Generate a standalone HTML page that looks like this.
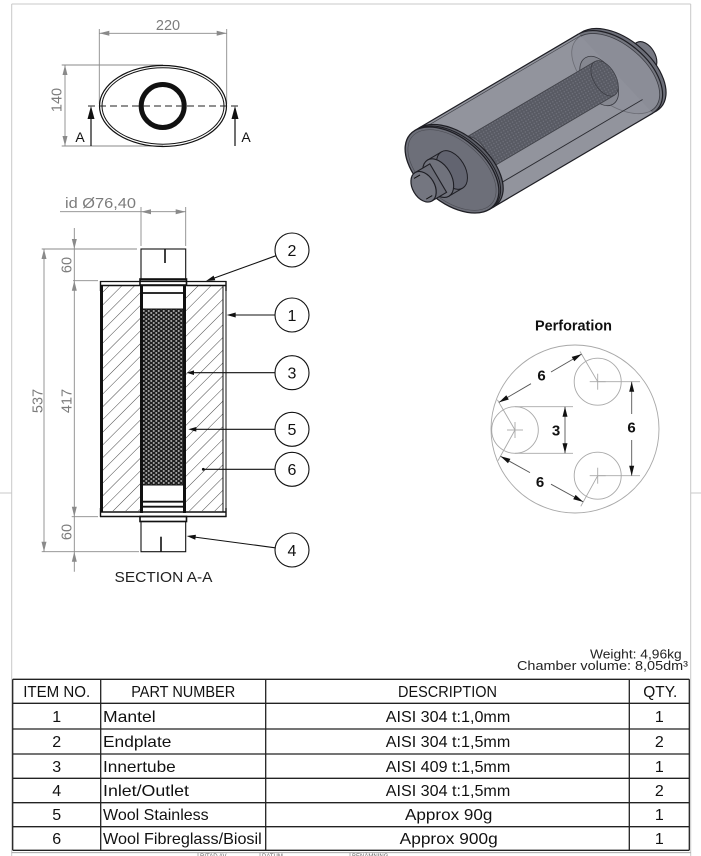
<!DOCTYPE html>
<html><head><meta charset="utf-8"><style>
html,body{margin:0;padding:0;background:#fff;}
svg{display:block;}
text{font-family:"Liberation Sans",Arial,sans-serif;}
</style></head><body>
<svg width="701" height="856" viewBox="0 0 701 856" xmlns="http://www.w3.org/2000/svg">
<defs>
<pattern id="hatch" width="9" height="9" patternUnits="userSpaceOnUse" patternTransform="rotate(45)">
<line x1="0" y1="0" x2="0" y2="9" stroke="#333" stroke-width="0.9"/>
</pattern>
<pattern id="perf" width="5" height="4" patternUnits="userSpaceOnUse">
<rect width="5" height="4" fill="#1e1e1e"/>
<ellipse cx="1.25" cy="1" rx="1.05" ry="0.7" fill="#d8d8d8"/>
<ellipse cx="3.75" cy="3" rx="1.05" ry="0.7" fill="#d8d8d8"/>
</pattern>
<pattern id="perf3d" width="3" height="3" patternUnits="userSpaceOnUse">
<rect width="3" height="3" fill="#585a63"/>
<circle cx="1.5" cy="1.5" r="0.7" fill="#72747e"/>
</pattern>
</defs>

<!-- page border -->
<g stroke="#c8c8c8" stroke-width="1" fill="none">
<line x1="11.7" y1="4" x2="690.7" y2="4"/>
<line x1="11.7" y1="4" x2="11.7" y2="856"/>
<line x1="690.7" y1="4" x2="690.7" y2="856"/>
<line x1="0" y1="493" x2="11.7" y2="493"/>
<line x1="690.7" y1="493" x2="701" y2="493"/>
</g>

<!-- ===== TOP VIEW ===== -->
<g stroke="#8a8a8a" stroke-width="0.9" fill="none">
<line x1="99.3" y1="29" x2="99.3" y2="104"/>
<line x1="226.7" y1="29" x2="226.7" y2="104"/>
<line x1="99.3" y1="33.3" x2="226.7" y2="33.3"/>
<line x1="61.7" y1="65" x2="163" y2="65"/>
<line x1="61.7" y1="146" x2="163" y2="146"/>
<line x1="65" y1="65" x2="65" y2="146"/>
</g>
<g fill="#8a8a8a">
<polygon points="99.3,33.3 109.3,30.8 109.3,35.8"/>
<polygon points="226.7,33.3 216.7,30.8 216.7,35.8"/>
<polygon points="65,65 62.5,75 67.5,75"/>
<polygon points="65,146 62.5,136 67.5,136"/>
</g>
<text x="168" y="30" font-size="14.5" fill="#7c7c7c" text-anchor="middle">220</text>
<text transform="translate(61.5,100) rotate(-90)" font-size="14.5" fill="#7c7c7c" text-anchor="middle">140</text>
<ellipse cx="163" cy="106" rx="63.5" ry="40.5" fill="none" stroke="#111" stroke-width="1.2"/>
<ellipse cx="163" cy="106" rx="61" ry="38.2" fill="none" stroke="#111" stroke-width="1"/>
<circle cx="162.7" cy="106" r="21.5" fill="none" stroke="#111" stroke-width="5"/>
<line x1="88" y1="106" x2="238" y2="106" stroke="#222" stroke-width="1" stroke-dasharray="7 4"/>
<line x1="91" y1="112" x2="91" y2="146" stroke="#111" stroke-width="1.2"/>
<line x1="235" y1="112" x2="235" y2="146" stroke="#111" stroke-width="1.2"/>
<polygon points="91,106 87.5,119 94.5,119" fill="#111"/>
<polygon points="235,106 231.5,119 238.5,119" fill="#111"/>
<text x="80" y="142" font-size="14" fill="#111" text-anchor="middle">A</text>
<text x="246" y="142" font-size="14" fill="#111" text-anchor="middle">A</text>

<!-- ===== SECTION A-A ===== -->
<text x="100.5" y="208" font-size="14.5" fill="#7c7c7c" text-anchor="middle" textLength="71" lengthAdjust="spacingAndGlyphs">id Ø76,40</text>
<g stroke="#8a8a8a" stroke-width="0.9" fill="none">
<line x1="60" y1="211.7" x2="185.7" y2="211.7"/>
<line x1="141" y1="207" x2="141" y2="246"/>
<line x1="185.7" y1="207" x2="185.7" y2="246"/>
<line x1="41.7" y1="249" x2="137" y2="249"/>
<line x1="73" y1="280.7" x2="98" y2="280.7"/>
<line x1="71.7" y1="516.7" x2="98" y2="516.7"/>
<line x1="41.7" y1="551.7" x2="139" y2="551.7"/>
<line x1="74.3" y1="228" x2="74.3" y2="571.7"/>
<line x1="44" y1="249" x2="44" y2="551.7"/>
</g>
<g fill="#8a8a8a">
<polygon points="141,211.7 151,209.2 151,214.2"/>
<polygon points="185.7,211.7 175.7,209.2 175.7,214.2"/>
<polygon points="74.3,249 71.8,239 76.8,239"/>
<polygon points="74.3,280.7 71.8,290.7 76.8,290.7"/>
<polygon points="74.3,516.7 71.8,506.7 76.8,506.7"/>
<polygon points="74.3,551.7 71.8,561.7 76.8,561.7"/>
<polygon points="44,249 41.5,259 46.5,259"/>
<polygon points="44,551.7 41.5,541.7 46.5,541.7"/>
</g>
<text transform="translate(71.5,265) rotate(-90)" font-size="14.5" fill="#7c7c7c" text-anchor="middle">60</text>
<text transform="translate(71.5,401) rotate(-90)" font-size="14.5" fill="#7c7c7c" text-anchor="middle">417</text>
<text transform="translate(42.5,401) rotate(-90)" font-size="14.5" fill="#7c7c7c" text-anchor="middle">537</text>
<text transform="translate(71.5,532) rotate(-90)" font-size="14.5" fill="#7c7c7c" text-anchor="middle">60</text>

<rect x="103" y="286" width="37" height="225" fill="url(#hatch)"/>
<rect x="186" y="286" width="37" height="225" fill="url(#hatch)"/>
<rect x="143" y="309" width="40" height="176" fill="url(#perf)"/>
<g stroke="#111" fill="none">
<rect x="141" y="249" width="44.7" height="31" stroke-width="1.1"/>
<line x1="165" y1="249" x2="165" y2="263" stroke-width="1.6"/>
<rect x="140" y="279" width="46.5" height="6" stroke-width="1.6"/>
<line x1="140" y1="293" x2="186" y2="293" stroke-width="1.8"/>
<line x1="100" y1="281.5" x2="226.5" y2="281.5" stroke-width="1.3"/>
<line x1="100" y1="285.5" x2="226.5" y2="285.5" stroke-width="1.6"/>
<line x1="100.5" y1="281" x2="100.5" y2="291" stroke-width="1.4"/>
<line x1="226" y1="281" x2="226" y2="291" stroke-width="1.4"/>
<line x1="101.5" y1="286" x2="101.5" y2="512" stroke-width="3"/>
<line x1="223" y1="286" x2="223" y2="512" stroke-width="1"/>
<line x1="226" y1="286" x2="226" y2="512" stroke-width="1"/>
<line x1="141.5" y1="286" x2="141.5" y2="513" stroke-width="3"/>
<line x1="184.5" y1="286" x2="184.5" y2="513" stroke-width="3"/>
<line x1="143" y1="309" x2="183" y2="309" stroke-width="1"/>
<line x1="143" y1="485" x2="183" y2="485" stroke-width="1"/>
<line x1="140" y1="501.7" x2="186" y2="501.7" stroke-width="1.8"/>
<line x1="140" y1="506.7" x2="186" y2="506.7" stroke-width="1.8"/>
<line x1="100" y1="512" x2="226.5" y2="512" stroke-width="1.6"/>
<line x1="100" y1="516.5" x2="226.5" y2="516.5" stroke-width="1.6"/>
<line x1="100.5" y1="508" x2="100.5" y2="517" stroke-width="1.4"/>
<line x1="226" y1="508" x2="226" y2="517" stroke-width="1.4"/>
<rect x="140" y="516.5" width="46.5" height="5" stroke-width="1.6"/>
<rect x="141" y="521.5" width="44.7" height="30.2" stroke-width="1.1"/>
<line x1="161" y1="536.7" x2="161" y2="551.7" stroke-width="1.6"/>
</g>

<g stroke="#111" stroke-width="1.1" fill="none">
<circle cx="292" cy="250" r="17"/>
<circle cx="292" cy="315" r="17"/>
<circle cx="292" cy="372.7" r="17"/>
<circle cx="292" cy="429.3" r="17"/>
<circle cx="292" cy="469.3" r="17"/>
<circle cx="292" cy="550" r="17"/>
<line x1="276" y1="255.7" x2="213" y2="278.5"/>
<line x1="275" y1="315" x2="234" y2="315"/>
<line x1="275" y1="372.7" x2="192" y2="372.7"/>
<line x1="275" y1="429.3" x2="194" y2="429.3"/>
<line x1="275" y1="469.3" x2="203.3" y2="469.3"/>
<line x1="275.1" y1="547.8" x2="194" y2="537"/>
</g>
<g fill="#111">
<polygon points="206,281 213.6,275.6 215.3,280.3"/>
<polygon points="226.7,315 235.7,312.5 235.7,317.5"/>
<polygon points="186.5,372.7 194,370.4 194,375"/>
<polygon points="188.3,429.3 196.3,427 196.3,431.6"/>
<circle cx="203.3" cy="469.3" r="1.4"/>
<polygon points="186.7,536 195.9,534.7 195.3,539.7"/>
</g>
<g font-size="16" fill="#111" text-anchor="middle">
<text x="292" y="256">2</text>
<text x="292" y="321">1</text>
<text x="292" y="378.5">3</text>
<text x="292" y="435">5</text>
<text x="292" y="475">6</text>
<text x="292" y="556">4</text>
</g>
<text x="163.5" y="582" font-size="15" fill="#222" text-anchor="middle" textLength="98" lengthAdjust="spacingAndGlyphs">SECTION A-A</text>

<!-- ===== 3D VIEW ===== -->
<g transform="translate(452,170) rotate(-30.5)">
  <rect x="190" y="-16" width="34" height="32" fill="#6b6d77" stroke="#1e1e24" stroke-width="1.1"/>
  <ellipse cx="224" cy="0" rx="10" ry="16" fill="#777983" stroke="#1e1e24" stroke-width="1.1"/>
  <rect x="190" y="-20" width="10" height="40" fill="#686a74" stroke="#1e1e24" stroke-width="1"/>
  <ellipse cx="200" cy="0" rx="12" ry="20" fill="#6a6c76" stroke="#1e1e24" stroke-width="1"/>
  <ellipse cx="194" cy="0" rx="55" ry="32" transform="rotate(70.5 194 0)" fill="#6c6e78" stroke="#1e1e24" stroke-width="1.2"/>
  <ellipse cx="190" cy="0" rx="55" ry="32" transform="rotate(70.5 190 0)" fill="#74767f" stroke="#1e1e24" stroke-width="1.2"/>
  <path d="M-11.8,-52.95 L178.2,-52.95 L201.8,52.95 L11.8,52.95 Z" fill="#90929b" stroke="none"/>
  <ellipse cx="190" cy="0" rx="52" ry="29" transform="rotate(70.5 190 0)" fill="#8b8d97" stroke="#3a3b42" stroke-width="0.8"/>
  <path d="M-11.8,-52.95 L178.2,-52.95 L201.8,52.95 L11.8,52.95 Z" fill="#93959e" fill-opacity="0.55" stroke="none"/>
  <line x1="-11.8" y1="-52.95" x2="178.2" y2="-52.95" stroke="#1e1e24" stroke-width="1.2"/>
  <line x1="-9" y1="-50.5" x2="180" y2="-50.5" stroke="#44454c" stroke-width="0.7"/>
  <line x1="11.8" y1="52.95" x2="201.8" y2="52.95" stroke="#1e1e24" stroke-width="1.2"/>
  <line x1="10" y1="36" x2="200" y2="36" stroke="#2a2b31" stroke-width="0.9"/>
  <ellipse cx="172" cy="-2" rx="16" ry="27" fill="#858790" stroke="#3a3b42" stroke-width="0.8"/>
  <rect x="28" y="-21" width="150" height="39" fill="url(#perf3d)"/>
  <ellipse cx="178" cy="-1.5" rx="11" ry="19.5" fill="url(#perf3d)" stroke="#3a3b42" stroke-width="0.7"/>
  <line x1="28" y1="-21" x2="178" y2="-21" stroke="#3f4047" stroke-width="0.8"/>
  <line x1="28" y1="18" x2="178" y2="18" stroke="#3f4047" stroke-width="0.8"/>
  <ellipse cx="28" cy="-1.5" rx="11" ry="19.5" fill="#7e808a" fill-opacity="0.6" stroke="#3f4047" stroke-width="0.7"/>
  <ellipse cx="5" cy="0" rx="55" ry="32" transform="rotate(70.5 5 0)" fill="#5e6069" stroke="#1e1e24" stroke-width="1.2"/>
  <ellipse cx="2" cy="0" rx="55" ry="32" transform="rotate(70.5 2 0)" fill="#63656e" stroke="#1e1e24" stroke-width="1"/>
  <ellipse cx="0" cy="0" rx="55" ry="32" transform="rotate(70.5 0 0)" fill="#6d6f79" stroke="#1e1e24" stroke-width="1.3"/>
  <ellipse cx="0" cy="0" rx="52" ry="29.5" transform="rotate(70.5 0 0)" fill="none" stroke="#4a4b52" stroke-width="0.6"/>
  <rect x="-16" y="-21" width="16" height="42" fill="#676973" stroke="#1e1e24" stroke-width="1"/>
  <ellipse cx="0" cy="0" rx="13" ry="21" fill="#626470" stroke="#1e1e24" stroke-width="1"/>
  <ellipse cx="-16" cy="0" rx="13" ry="21" fill="#70727c" stroke="#1e1e24" stroke-width="1.1"/>
  <rect x="-33" y="-16.5" width="17" height="33" fill="#6a6c76" stroke="#1e1e24" stroke-width="1.1"/>
  <ellipse cx="-33" cy="0" rx="11" ry="16.5" fill="#747680" stroke="#1e1e24" stroke-width="1.2"/>
  <line x1="-37" y1="-12" x2="-30" y2="-12" stroke="#111" stroke-width="1"/>
  <line x1="-37" y1="12" x2="-30" y2="12" stroke="#111" stroke-width="1"/>
</g>

<!-- ===== PERFORATION ===== -->
<text x="573.5" y="330.5" font-size="14.5" font-weight="bold" fill="#111" text-anchor="middle" textLength="77" lengthAdjust="spacingAndGlyphs">Perforation</text>
<g stroke="#a8a8a8" stroke-width="0.9" fill="none">
<circle cx="575" cy="429" r="84"/>
<circle cx="515" cy="430" r="23.3"/>
<circle cx="597.7" cy="381.7" r="23.5"/>
<circle cx="597.7" cy="475.7" r="23.5"/>
<line x1="507" y1="430" x2="523" y2="430"/><line x1="515" y1="422" x2="515" y2="438"/>
<line x1="589.7" y1="381.7" x2="605.7" y2="381.7"/><line x1="597.7" y1="373.7" x2="597.7" y2="389.7"/>
<line x1="589.7" y1="475.7" x2="605.7" y2="475.7"/><line x1="597.7" y1="467.7" x2="597.7" y2="483.7"/>
<line x1="515" y1="406.7" x2="573" y2="406.7"/>
<line x1="515" y1="453.3" x2="573" y2="453.3"/>
<line x1="597.7" y1="381.7" x2="640" y2="381.7"/>
<line x1="597.7" y1="475.7" x2="640" y2="475.7"/>
<line x1="515" y1="430" x2="497.4" y2="399.8"/>
<line x1="597.7" y1="381.7" x2="580" y2="351.5"/>
<line x1="515" y1="430" x2="498" y2="460.6"/>
<line x1="597.7" y1="475.7" x2="580.8" y2="506.3"/>
</g>
<g stroke="#555" stroke-width="0.9" fill="none">
<line x1="565" y1="406.7" x2="565" y2="453.3"/>
<line x1="631.7" y1="381.7" x2="631.7" y2="414"/>
<line x1="631.7" y1="440" x2="631.7" y2="475.7"/>
<line x1="498.9" y1="402.4" x2="531" y2="383.7"/>
<line x1="551" y1="372" x2="581.6" y2="354.1"/>
<line x1="500.5" y1="456.3" x2="530" y2="472.6"/>
<line x1="551" y1="484.2" x2="583.2" y2="501.9"/>
</g>
<g fill="#111">
<polygon points="565,406.7 562.5,416.7 567.5,416.7"/>
<polygon points="565,453.3 562.5,443.3 567.5,443.3"/>
<polygon points="631.7,381.7 629.2,391.7 634.2,391.7"/>
<polygon points="631.7,475.7 629.2,465.7 634.2,465.7"/>
<polygon points="498.9,402.4 506.3,395.2 508.8,399.5"/>
<polygon points="581.6,354.1 571.7,356.9 574.3,361.3"/>
<polygon points="500.5,456.3 510.4,458.9 508,463.3"/>
<polygon points="583.2,501.9 575.6,494.9 573.2,499.3"/>
</g>
<g font-size="15" font-weight="bold" fill="#111" text-anchor="middle">
<text x="556" y="435.5">3</text>
<text x="631.5" y="432.5">6</text>
<text x="541.5" y="380.5">6</text>
<text x="540" y="487">6</text>
</g>

<!-- ===== WEIGHT / TABLE ===== -->
<text x="681.7" y="658.5" font-size="13" fill="#222" text-anchor="end" textLength="91.7" lengthAdjust="spacingAndGlyphs">Weight: 4,96kg</text>
<text x="688" y="670" font-size="13" fill="#222" text-anchor="end" textLength="171" lengthAdjust="spacingAndGlyphs">Chamber volume: 8,05dm³</text>

<g stroke="#222" stroke-width="1.3" fill="none">
<line x1="12.7" y1="679.3" x2="689.3" y2="679.3"/>
<line x1="12.7" y1="703.3" x2="689.3" y2="703.3"/>
<line x1="12.7" y1="729" x2="689.3" y2="729"/>
<line x1="12.7" y1="754" x2="689.3" y2="754"/>
<line x1="12.7" y1="778.3" x2="689.3" y2="778.3"/>
<line x1="12.7" y1="802.7" x2="689.3" y2="802.7"/>
<line x1="12.7" y1="826.7" x2="689.3" y2="826.7"/>
<line x1="12.7" y1="850.3" x2="689.3" y2="850.3"/>
<line x1="12.7" y1="679.3" x2="12.7" y2="850.3"/>
<line x1="100.7" y1="679.3" x2="100.7" y2="850.3"/>
<line x1="265.7" y1="679.3" x2="265.7" y2="850.3"/>
<line x1="629.3" y1="679.3" x2="629.3" y2="850.3"/>
<line x1="689.3" y1="679.3" x2="689.3" y2="850.3"/>
</g>
<g font-size="16" fill="#111">
<text x="56.7" y="697" text-anchor="middle" textLength="67" lengthAdjust="spacingAndGlyphs">ITEM NO.</text>
<text x="183.2" y="697" text-anchor="middle" textLength="104" lengthAdjust="spacingAndGlyphs">PART NUMBER</text>
<text x="447.5" y="697" text-anchor="middle" textLength="99" lengthAdjust="spacingAndGlyphs">DESCRIPTION</text>
<text x="660.3" y="697" text-anchor="middle" textLength="34" lengthAdjust="spacingAndGlyphs">QTY.</text>

<text x="56.7" y="722" text-anchor="middle">1</text>
<text x="56.7" y="747" text-anchor="middle">2</text>
<text x="56.7" y="772" text-anchor="middle">3</text>
<text x="56.7" y="796" text-anchor="middle">4</text>
<text x="56.7" y="820" text-anchor="middle">5</text>
<text x="56.7" y="844" text-anchor="middle">6</text>

<text x="103" y="722" textLength="52.7" lengthAdjust="spacingAndGlyphs">Mantel</text>
<text x="103" y="747" textLength="68.4" lengthAdjust="spacingAndGlyphs">Endplate</text>
<text x="103" y="772" textLength="72.7" lengthAdjust="spacingAndGlyphs">Innertube</text>
<text x="103" y="796" textLength="86" lengthAdjust="spacingAndGlyphs">Inlet/Outlet</text>
<text x="103" y="820" textLength="105.7" lengthAdjust="spacingAndGlyphs">Wool Stainless</text>
<text x="103" y="844" textLength="158.7" lengthAdjust="spacingAndGlyphs">Wool Fibreglass/Biosil</text>

<text x="448" y="722" text-anchor="middle" textLength="124.5" lengthAdjust="spacingAndGlyphs">AISI 304 t:1,0mm</text>
<text x="448" y="747" text-anchor="middle" textLength="124.5" lengthAdjust="spacingAndGlyphs">AISI 304 t:1,5mm</text>
<text x="448" y="772" text-anchor="middle" textLength="124.5" lengthAdjust="spacingAndGlyphs">AISI 409 t:1,5mm</text>
<text x="448" y="796" text-anchor="middle" textLength="124.5" lengthAdjust="spacingAndGlyphs">AISI 304 t:1,5mm</text>
<text x="448.7" y="820" text-anchor="middle" textLength="87.3" lengthAdjust="spacingAndGlyphs">Approx 90g</text>
<text x="448.7" y="844" text-anchor="middle" textLength="98" lengthAdjust="spacingAndGlyphs">Approx 900g</text>

<text x="659.3" y="722" text-anchor="middle">1</text>
<text x="659.3" y="747" text-anchor="middle">2</text>
<text x="659.3" y="772" text-anchor="middle">1</text>
<text x="659.3" y="796" text-anchor="middle">2</text>
<text x="659.3" y="820" text-anchor="middle">1</text>
<text x="659.3" y="844" text-anchor="middle">1</text>
</g>

<g stroke="#999" stroke-width="0.8">
<line x1="11.7" y1="852.7" x2="690.7" y2="852.7"/>
<line x1="198" y1="852.7" x2="198" y2="856"/>
<line x1="260" y1="852.7" x2="260" y2="856"/>
<line x1="350" y1="852.7" x2="350" y2="856"/>
</g>
<g font-size="6" fill="#666">
<text x="200" y="858">RITAD AV</text>
<text x="262" y="858">DATUM</text>
<text x="352" y="858">BENÄMNING</text>
</g>
</svg>
</body></html>
